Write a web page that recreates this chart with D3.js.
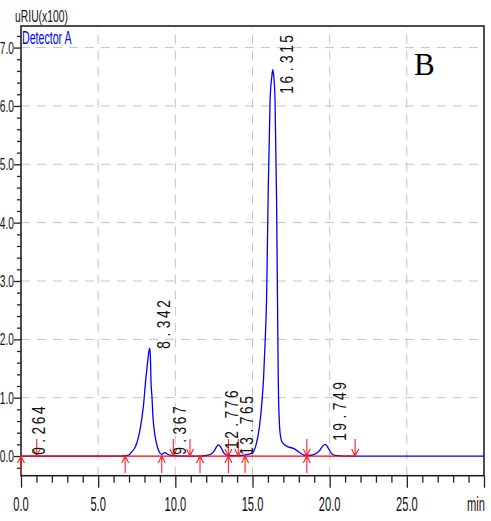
<!DOCTYPE html>
<html><head><meta charset="utf-8">
<script src="https://cdn.jsdelivr.net/npm/d3@7"></script>
<style>body{margin:0;background:#fff} svg{display:block}</style>
</head><body>
<script>
// ---- data ----
const xTicks = [0, 5, 10, 15, 20, 25];
const xTickLabels = ["0.0", "5.0", "10.0", "15.0", "20.0", "25.0"];
const yTicks = [0, 1, 2, 3, 4, 5, 6, 7];
const yTickLabels = ["0.0", "1.0", "2.0", "3.0", "4.0", "5.0", "6.0", "7.0"];
const times = [0, 6.5, 6.75, 7.0, 7.17, 7.35, 7.5, 7.71, 7.93, 8.08, 8.2, 8.29, 8.342, 8.39, 8.42, 8.49, 8.55, 8.63, 8.75, 8.96, 9.12, 9.33, 9.5, 9.7, 10.5,
  11.6, 12.2, 12.5, 12.7, 12.8, 12.95, 13.15, 13.4, 13.8, 14.3, 14.7, 14.97, 15.23, 15.45, 15.62, 15.71, 15.81, 15.91, 16.01, 16.14, 16.25, 16.315,
  16.38, 16.46, 16.56, 16.62, 16.67, 16.74, 16.82, 16.9, 17.2, 17.65, 18.0, 18.3, 18.6, 19.0, 19.3, 19.55, 19.72, 19.9, 20.1, 20.35, 21, 30];
const signal = [0, 0, 0.005, 0.02, 0.07, 0.13, 0.22, 0.45, 0.85, 1.30, 1.60, 1.80, 1.85, 1.65, 1.30, 1.0, 0.67, 0.45, 0.25, 0.07, 0.03, 0.06, 0.03, 0.01, 0,
  0, 0.02, 0.08, 0.17, 0.19, 0.15, 0.05, 0.01, 0.005, 0.01, 0.03, 0.05, 0.19, 0.5, 0.95, 1.30, 1.9, 2.68, 4.39, 6.1, 6.5, 6.62,
  6.5, 6.1, 4.39, 2.68, 1.30, 0.57, 0.33, 0.25, 0.17, 0.13, 0.07, 0.02, 0.01, 0.03, 0.08, 0.17, 0.2, 0.14, 0.05, 0.01, 0, 0];
const peakTimes = [0.264, 8.342, 9.367, 12.776, 13.765, 16.315, 19.749];
const peakLabels = ["0.264", "8.342", "9.367", "12.776", "13.765", "16.315", "19.749"];
const peakLabelHeights = [0.0, 1.82, 0.0, 0.1, 0.0, 6.19, 0.24];
const peakStarts = [0.0, 6.75, 9.12, 11.6, 13.44, 14.52, 18.52];
const peakEnds = [1.02, 9.87, 10.95, 13.44, 14.08, 18.52, 21.65];
const baselineRange = [0, 21.65];

// ---- layout ----
const W = 491, H = 521;
const L = 21, R = 484, T = 26, B = 475.7;
const x = d3.scaleLinear([0, 30], [L, R]);
const y = d3.scaleLinear([-0.337, 7.37], [B, T]);

const svg = d3.select("body").append("svg").attr("width", W).attr("height", H);
const FONT = "'Liberation Sans', Arial, sans-serif";

// grid
const grid = svg.append("g").attr("stroke", "#c4c4c4").attr("stroke-width", 1).attr("stroke-dasharray", "9,7");
grid.selectAll("line.v").data(xTicks.filter(d => d > 0)).join("line")
  .attr("x1", d => x(d)).attr("x2", d => x(d)).attr("y1", B).attr("y2", T);
grid.selectAll("line.h").data(yTicks.filter(d => d > 0)).join("line")
  .attr("x1", L).attr("x2", R).attr("y1", d => y(d)).attr("y2", d => y(d));

// x axis
const xMinor = d3.range(0, 31, 1).filter(d => d % 5 !== 0);
const xAxisMinor = d3.axisBottom(x).tickValues(xMinor).tickSize(7).tickFormat("");
const xAxisMajor = d3.axisBottom(x).tickValues(xTicks.concat([30])).tickSize(12).tickFormat("");
svg.append("g").attr("transform", `translate(0,${B})`).call(xAxisMinor);
svg.append("g").attr("transform", `translate(0,${B})`).call(xAxisMajor);
svg.selectAll(".domain").remove();
svg.selectAll(".tick line").attr("stroke", "#222").attr("stroke-width", 1.3);

const xl = svg.append("g").attr("font-family", FONT).attr("font-size", 21).attr("fill", "#111");
xl.selectAll("text").data(xTicks).join("text")
  .attr("transform", d => `translate(${x(d)},${511}) scale(0.53,1)`)
  .attr("text-anchor", "middle").text((d, i) => xTickLabels[i]);
xl.append("text").attr("transform", `translate(${R + 1},${511}) scale(0.53,1)`)
  .attr("text-anchor", "end").text("min");

// y axis
const yMinor = d3.range(-0.2, 7.3, 0.2).map(v => Math.round(v * 10) / 10).filter(v => Math.abs(v - Math.round(v)) > 0.01);
svg.append("g").attr("transform", `translate(${L},0)`).call(d3.axisLeft(y).tickValues(yMinor).tickSize(4).tickFormat(""))
  .call(g => g.select(".domain").remove()).selectAll("line").attr("stroke", "#222").attr("stroke-width", 1.3);
svg.append("g").attr("transform", `translate(${L},0)`).call(d3.axisLeft(y).tickValues(yTicks).tickSize(7).tickFormat(""))
  .call(g => g.select(".domain").remove()).selectAll("line").attr("stroke", "#222").attr("stroke-width", 1.3);
const yl = svg.append("g").attr("font-family", FONT).attr("font-size", 17).attr("fill", "#111");
yl.selectAll("text").data(yTicks).join("text")
  .attr("transform", d => `translate(${14},${y(d) + 6}) scale(0.6,1)`)
  .attr("text-anchor", "end").text((d, i) => yTickLabels[i]);

// frame
svg.append("rect").attr("x", L).attr("y", T).attr("width", R - L).attr("height", B - T)
  .attr("fill", "none").attr("stroke", "#222").attr("stroke-width", 1.6);

// titles
svg.append("text").attr("font-family", FONT).attr("font-size", 17).attr("fill", "#111")
  .attr("transform", `translate(15,22) scale(0.61,1)`).text("uRIU(x100)");
svg.append("text").attr("font-family", FONT).attr("font-size", 18).attr("fill", "#0000ff")
  .attr("transform", `translate(${L + 1},44) scale(0.59,1)`).text("Detector A");
svg.append("text").attr("font-family", "'Liberation Serif', 'Times New Roman', serif").attr("font-size", 31).attr("fill", "#000")
  .attr("x", 414).attr("y", 75).text("B");

// chromatogram
const pts = times.map((t, i) => [t, signal[i]]);
const line = d3.line().x(d => x(d[0])).y(d => y(d[1])).curve(d3.curveMonotoneX);
svg.append("path").attr("d", line(pts)).attr("fill", "none").attr("stroke", "#0000ff").attr("stroke-width", 1.3);

// red baseline
svg.append("line").attr("x1", x(baselineRange[0])).attr("x2", x(baselineRange[1]))
  .attr("y1", y(0)).attr("y2", y(0)).attr("stroke", "#ff0000").attr("stroke-width", 1.3);

// arrows
const red = svg.append("g").attr("stroke", "#ff2020").attr("stroke-width", 1.1).attr("fill", "none");
const y0 = y(0), AL = 17, AH = 7, AW = 3.5;
peakStarts.forEach(t => {
  const px = x(t);
  red.append("path").attr("d", `M${px},${y0 + AL}L${px},${y0}M${px - AW},${y0 + AH}L${px},${y0}L${px + AW},${y0 + AH}`);
});
peakEnds.forEach(t => {
  const px = x(t);
  red.append("path").attr("d", `M${px},${y0 - AL}L${px},${y0}M${px - AW},${y0 - AH}L${px},${y0}L${px + AW},${y0 - AH}`);
});

// peak labels (rotated, spaced characters)
const CELL = 10.2;
const pl = svg.append("g").attr("font-family", FONT).attr("font-size", 19).attr("fill", "#111");
peakLabels.forEach((lab, i) => {
  const g = pl.append("g").attr("transform", `translate(${x(peakTimes[i]) + 20},${y(peakLabelHeights[i]) - 1}) rotate(-90)`);
  lab.split("").forEach((ch, j) => {
    g.append("text").attr("text-anchor", "middle")
      .attr("transform", `translate(${j * CELL + 4},0) scale(0.72,1)`).text(ch);
  });
});
</script>
</body></html>
